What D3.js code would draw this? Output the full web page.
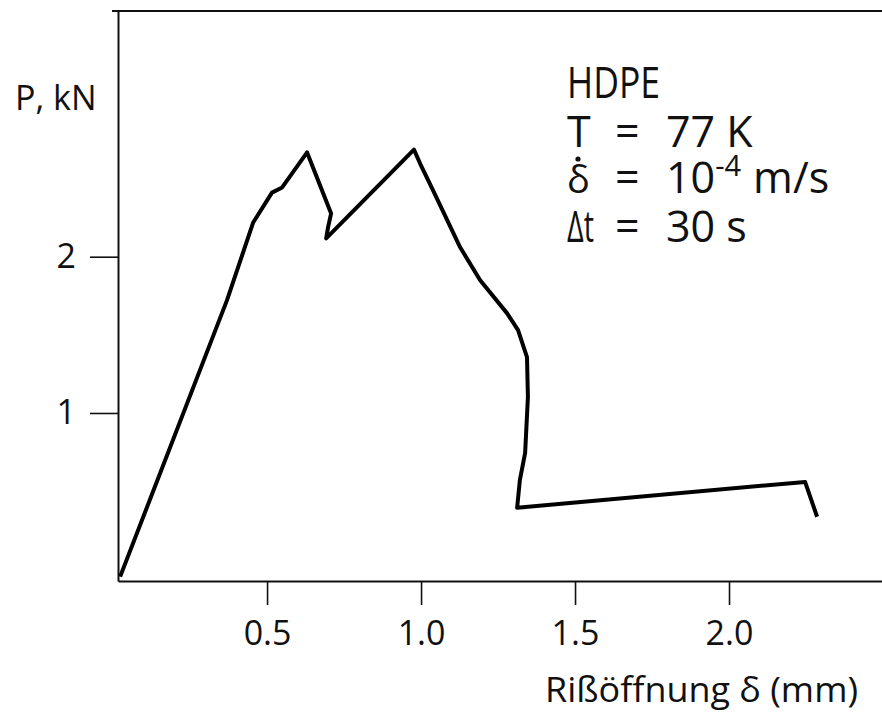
<!DOCTYPE html>
<html>
<head>
<meta charset="utf-8">
<script src="https://cdn.jsdelivr.net/npm/d3@7"></script>
<style>
  body { margin: 0; background: #fff; }
  text { font-family: "Open Sans", sans-serif; fill: #111; }
</style>
</head>
<body>
<div id="container"></div>
<script>
// svg size
const w = 882
const h = 716

// load-displacement curve
const delta = [0.023, 0.370, 0.455, 0.516, 0.549, 0.630, 0.708, 0.698, 0.692, 0.977, 0.997, 1.039, 1.127, 1.192, 1.279, 1.315, 1.344, 1.347, 1.338, 1.321, 1.312, 2.247, 2.286]
const load = [-0.047, 1.722, 2.219, 2.410, 2.443, 2.667, 2.277, 2.188, 2.117, 2.685, 2.596, 2.424, 2.060, 1.849, 1.639, 1.530, 1.358, 1.102, 0.745, 0.572, 0.393, 0.559, 0.336]

const xTicks = [0.5, 1.0, 1.5, 2.0]
const yTicks = [1, 2]

// plot frame
const mLeft = 118, mRight = 883, mTop = 11, mBottom = 581

const x = d3.scaleLinear().domain([0.016, 2.5]).range([mLeft, mRight])
const y = d3.scaleLinear().domain([-0.075, 3.572]).range([mBottom, mTop])

const svg = d3.select('#container')
    .append('svg')
    .attr('width', w)
    .attr('height', h)

// bottom axis
svg.append('g')
    .attr('transform', 'translate(0,' + mBottom + ')')
    .call(d3.axisBottom(x).tickValues(xTicks).tickFormat(d3.format('.1f'))
        .tickSize(24).tickSizeOuter(0).tickPadding(16))

// left axis
svg.append('g')
    .attr('transform', 'translate(' + mLeft + ',0)')
    .call(d3.axisLeft(y).tickValues(yTicks).tickFormat(d3.format('d'))
        .tickSize(28).tickSizeOuter(0).tickPadding(14))

// top border
svg.append('line')
    .attr('x1', mLeft - 6).attr('x2', w)
    .attr('y1', mTop).attr('y2', mTop)
    .attr('stroke', '#111').attr('stroke-width', 2)

svg.selectAll('.domain').attr('stroke', '#111').attr('stroke-width', 2)
svg.selectAll('.tick line').attr('stroke', '#111').attr('stroke-width', 1.6)
svg.selectAll('.tick text').style('font-size', '34px').style('font-family', '"Open Sans", sans-serif').attr('fill', '#111')

// curve
const pts = delta.map((d, i) => [d, load[i]])
const line = d3.line()
    .x(d => x(d[0]))
    .y(d => y(d[1]))

svg.append('path')
    .datum(pts)
    .attr('fill', 'none')
    .attr('stroke', '#000')
    .attr('stroke-width', 4)
    .attr('stroke-linejoin', 'round')
    .attr('d', line)

// axis titles
svg.append('text')
    .attr('x', 15).attr('y', 110)
    .style('font-size', '34px')
    .text('P, kN')

svg.append('text')
    .attr('x', 858).attr('y', 702)
    .attr('text-anchor', 'end')
    .style('font-size', '35px')
    .attr('textLength', 313)
    .attr('lengthAdjust', 'spacingAndGlyphs')
    .text('Rißöffnung δ (mm)')

// annotation block
const fs = 43
const ann = svg.append('g').style('font-size', fs + 'px')

ann.append('text').attr('x', 567).attr('y', 98)
    .attr('textLength', 93).attr('lengthAdjust', 'spacingAndGlyphs')
    .text('HDPE')

ann.append('text').attr('x', 567).attr('y', 147).text('T')
ann.append('text').attr('x', 615).attr('y', 147).text('=')
ann.append('text').attr('x', 666).attr('y', 147).text('77 K')

ann.append('text').attr('x', 567).attr('y', 193).style('font-size', '38px').text('\u03B4')
ann.append('circle').attr('cx', 578).attr('cy', 159).attr('r', 2.6).attr('fill', '#111')
ann.append('text').attr('x', 615).attr('y', 193).text('=')
const rate = ann.append('text').attr('x', 666).attr('y', 193)
rate.append('tspan').text('10')
rate.append('tspan').attr('dy', -17).style('font-size', '29px').text('-4')
rate.append('tspan').attr('dy', 17).attr('dx', 12).text('m/s')

ann.append('text').attr('x', 567).attr('y', 242)
    .attr('textLength', 27).attr('lengthAdjust', 'spacingAndGlyphs')
    .text('\u0394t')
ann.append('text').attr('x', 615).attr('y', 242).text('=')
ann.append('text').attr('x', 666).attr('y', 242).text('30 s')
</script>
</body>
</html>
